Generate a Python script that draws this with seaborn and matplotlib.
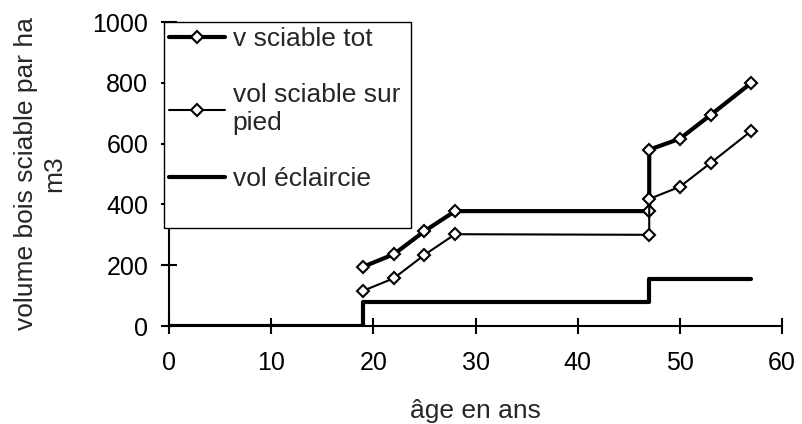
import pandas as pd
import seaborn as sns
import matplotlib.pyplot as plt
from matplotlib.patches import Rectangle

# values (age in years, volume m3/ha)
age_tot = [19, 22, 25, 28, 47, 47, 50, 53, 57]
v_sciable_tot = [195, 236, 312, 378, 378, 580, 616, 694, 800]

age_pied = [19, 22, 25, 28, 47, 47, 50, 53, 57]
vol_sur_pied = [116, 157, 234, 302, 300, 418, 458, 536, 642]

age_eclaircie = [0, 19, 47, 57]
vol_eclaircie = [0, 80, 155, 155]

x_ticks = [0, 10, 20, 30, 40, 50, 60]
y_ticks = [0, 200, 400, 600, 800, 1000]
series_labels = ["v sciable tot", "vol sciable sur\npied", "vol éclaircie"]


def plot_volumes():
    sns.set_style("ticks")
    plt.rcParams['font.family'] = ['Liberation Sans', 'DejaVu Sans']

    fig = plt.figure(figsize=(8.03, 4.24), dpi=100)
    ax = fig.add_axes([0.2105, 0.2311, 0.7634, 0.717])

    marker_kw = dict(marker='D', ms=6, mfc='white', mec='black', mew=1.5)
    sns.lineplot(x=age_tot, y=v_sciable_tot, ax=ax, estimator=None, sort=False,
                 color='black', lw=3, label=series_labels[0], **marker_kw)
    sns.lineplot(x=age_pied, y=vol_sur_pied, ax=ax, estimator=None, sort=False,
                 color='black', lw=1.5, label=series_labels[1], **marker_kw)
    sns.lineplot(x=age_eclaircie, y=vol_eclaircie, ax=ax, estimator=None, sort=False,
                 color='black', lw=3, drawstyle='steps-post', label=series_labels[2])

    ax.set_xlim(0, 60)
    ax.set_ylim(0, 1000)
    ax.set_xticks(x_ticks)
    ax.set_yticks(y_ticks)
    for side in ['top', 'right']:
        ax.spines[side].set_visible(False)
    for side in ['left', 'bottom']:
        ax.spines[side].set_linewidth(1.5)
        ax.spines[side].set_color('black')
    ax.tick_params(direction='inout', length=12, width=1.5, labelsize=18,
                   colors='black', pad=9)
    ax.tick_params(axis='x', pad=12)

    ax.set_xlabel("âge en ans", fontsize=19, labelpad=17)
    ax.set_ylabel("volume bois sciable par ha\nm3", fontsize=19, labelpad=19)

    # legend box drawn as its own frame, legend on top
    box = Rectangle((-0.008, 0.322), 0.403, 0.678, transform=ax.transAxes,
                    facecolor='white', edgecolor='black', lw=1.0,
                    clip_on=False, zorder=4)
    ax.add_patch(box)
    leg = ax.legend(loc='upper left', bbox_to_anchor=(-0.008, 1.0), frameon=False,
                    fontsize=19, borderaxespad=0, borderpad=0.2,
                    handlelength=2.1, handletextpad=0.3, labelspacing=1.22)
    leg.set_zorder(5)

    fig.savefig("out.png", dpi=100)


if __name__ == "__main__":
    plot_volumes()
